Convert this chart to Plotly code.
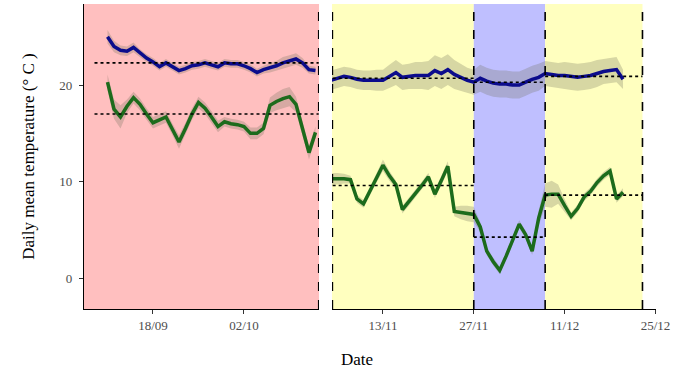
import pandas as pd
import plotly.graph_objects as go

# ---- data ----
left_dates = pd.date_range("2018-09-11", "2018-10-13", freq="D")
right_dates = pd.date_range("2018-11-05", "2018-12-20", freq="D")

blue_left = [25.0, 24.0, 23.6, 23.5, 23.9, 23.3, 22.8, 22.4, 21.9, 22.3, 21.9,
             21.5, 21.7, 22.0, 22.1, 22.3, 22.1, 21.9, 22.3, 22.2, 22.2, 22.0,
             21.7, 21.3, 21.6, 21.8, 22.0, 22.3, 22.5, 22.7, 22.3, 21.6, 21.5]
green_left = [20.3, 17.5, 16.7, 17.8, 18.7, 18.0, 17.0, 16.1, 16.4, 16.7, 15.4,
              14.1, 15.5, 17.0, 18.2, 17.6, 16.7, 15.7, 16.2, 16.0, 15.9, 15.7,
              15.0, 15.0, 15.5, 17.9, 18.3, 18.6, 18.8, 18.0, 15.5, 13.0, 15.1]
blue_left_sd = [0.7, 0.6, 0.5, 0.5, 0.5, 0.4, 0.4, 0.4, 0.4, 0.4, 0.4,
                0.4, 0.4, 0.4, 0.4, 0.4, 0.4, 0.4, 0.4, 0.4, 0.4, 0.4,
                0.4, 0.4, 0.4, 0.5, 0.5, 0.6, 0.6, 0.6, 0.5, 0.4, 0.4]
green_left_sd = [0.8, 1.0, 1.2, 0.7, 0.6, 0.6, 0.6, 0.6, 0.6, 0.6, 0.6,
                 0.7, 0.6, 0.6, 0.6, 0.6, 0.6, 0.6, 0.5, 0.5, 0.5, 0.5,
                 0.6, 0.6, 0.6, 0.8, 0.9, 1.0, 1.0, 0.8, 0.7, 0.7, 0.6]

blue_right = [20.5, 20.7, 20.9, 20.8, 20.6, 20.5, 20.5, 20.5, 20.5, 20.9, 21.3,
              20.8, 20.9, 21.0, 21.0, 21.0, 21.5, 21.2, 21.6, 21.1, 20.8, 20.5,
              20.3, 20.7, 20.4, 20.2, 20.1, 20.1, 20.0, 20.0, 20.3, 20.6, 20.8,
              21.2, 21.1, 21.0, 21.0, 20.9, 20.8, 20.9, 21.0, 21.2, 21.4, 21.5,
              21.6, 20.6]
green_right = [10.3, 10.3, 10.3, 10.2, 8.2, 7.7, 9.0, 10.4, 11.7, 10.6, 9.7,
               7.1, 7.9, 8.7, 9.6, 10.5, 8.7, 10.1, 11.6, 6.9, 6.8, 6.7,
               6.6, 5.3, 2.8, 1.7, 0.8, 2.3, 4.0, 5.6, 4.5, 2.8, 6.2,
               8.6, 8.7, 8.7, 7.5, 6.4, 7.2, 8.4, 9.0, 9.9, 10.6, 11.1,
               8.2, 8.9]
blue_right_sd = [1.0, 1.0, 1.0, 1.0, 1.0, 1.0, 1.0, 1.1, 1.1, 1.2, 1.3,
                 1.3, 1.3, 1.4, 1.4, 1.5, 1.6, 1.6, 1.6, 1.5, 1.4, 1.3,
                 1.3, 1.4, 1.4, 1.4, 1.4, 1.4, 1.4, 1.4, 1.4, 1.4, 1.4,
                 1.3, 1.3, 1.3, 1.4, 1.4, 1.4, 1.4, 1.4, 1.4, 1.3, 1.3,
                 1.3, 1.0]
green_right_sd = [0.6, 0.6, 0.5, 0.4, 0.4, 0.4, 0.4, 0.5, 0.6, 0.5, 0.4,
                  0.4, 0.4, 0.4, 0.4, 0.4, 0.4, 0.5, 0.5, 0.5, 0.7, 0.8,
                  0.8, 0.5, 0.4, 0.4, 0.4, 0.4, 0.4, 0.4, 0.4, 0.4, 0.8,
                  1.2, 1.4, 1.0, 0.7, 0.4, 0.4, 0.4, 0.4, 0.4, 0.4, 0.4,
                  0.4, 0.4]

# period means (dotted lines)
mean_start = ["2018-09-09", "2018-11-05 06:00", "2018-11-27", "2018-12-08"]
mean_end = ["2018-10-13 12:00", "2018-11-27", "2018-12-08", "2018-12-23"]
mean_axis = ["x", "x2", "x2", "x2"]
blue_mean = [22.3, 20.7, 20.3, 20.9]
green_mean = [17.0, 9.6, 4.25, 8.6]

# background periods on the right panel
period_start = ["2018-11-05", "2018-11-27", "2018-12-08"]
period_end = ["2018-11-27", "2018-12-08", "2018-12-23"]
period_color = ["rgb(255,255,191)", "rgb(191,191,255)", "rgb(255,255,191)"]
dashed_at = [("x", "2018-10-13 12:00"), ("x2", "2018-11-05 05:00"),
             ("x2", "2018-11-27"), ("x2", "2018-12-08"), ("x2", "2018-12-23")]

left_ticks = ["2018-09-18", "2018-10-02"]
right_ticks = ["2018-11-13", "2018-11-27", "2018-12-11", "2018-12-25"]

BLUE = "#0c0c8c"
GREEN = "#1c6b1c"
RIBBON = "rgba(110,110,90,0.28)"
FONT = "Liberation Serif"

fig = go.Figure()


def add_series(dates, vals, sd, color, xa):
    up = [v + s for v, s in zip(vals, sd)]
    lo = [v - s for v, s in zip(vals, sd)]
    xs = list(dates) + list(dates[::-1])
    fig.add_trace(go.Scatter(x=xs, y=up + lo[::-1], fill="toself", fillcolor=RIBBON,
                             line=dict(width=0), mode="lines", xaxis=xa, yaxis="y",
                             hoverinfo="skip", showlegend=False))
    fig.add_trace(go.Scatter(x=dates, y=vals, mode="lines", line=dict(color=color, width=3.5),
                             xaxis=xa, yaxis="y", showlegend=False))


add_series(left_dates, blue_left, blue_left_sd, BLUE, "x")
add_series(left_dates, green_left, green_left_sd, GREEN, "x")
add_series(right_dates, blue_right, blue_right_sd, BLUE, "x2")
add_series(right_dates, green_right, green_right_sd, GREEN, "x2")

for s, e, xa, b, g in zip(mean_start, mean_end, mean_axis, blue_mean, green_mean):
    for m in (b, g):
        fig.add_trace(go.Scatter(x=[s, e], y=[m, m], mode="lines", xaxis=xa, yaxis="y",
                                 line=dict(color="black", width=1.6, dash="dot"),
                                 showlegend=False))

# backgrounds
fig.add_shape(type="rect", xref="x domain", yref="y domain", x0=0, x1=1, y0=0, y1=1,
              fillcolor="rgb(255,191,191)", line_width=0, layer="below")
for s, e, c in zip(period_start, period_end, period_color):
    fig.add_shape(type="rect", xref="x2", yref="y domain", x0=s, x1=e, y0=0, y1=1,
                  fillcolor=c, line_width=0, layer="below")
for xa, d in dashed_at:
    fig.add_shape(type="line", xref=xa, yref="y domain", x0=d, x1=d, y0=0, y1=1,
                  line=dict(color="black", width=1.6, dash="dash"))

axis_common = dict(type="date", showgrid=False, zeroline=False, showline=True,
                   linecolor="black", linewidth=1.2, ticks="outside", ticklen=4,
                   tickcolor="#333", automargin=False,
                   tickfont=dict(family=FONT, size=13, color="#4d4d4d"))

fig.update_layout(
    width=676, height=375,
    margin=dict(l=84, r=20, t=4, b=66),
    paper_bgcolor="white", plot_bgcolor="white",
    font=dict(family=FONT),
    xaxis=dict(domain=[0, 235 / 572], range=["2018-09-07 09:14", "2018-10-13 13:00"],
               tickvals=left_ticks, ticktext=[pd.Timestamp(t).strftime("%d/%m") for t in left_ticks],
               anchor="y", **axis_common),
    xaxis2=dict(domain=[248 / 572, 1], range=["2018-11-05 03:36", "2018-12-25 02:00"],
                tickvals=right_ticks, ticktext=[pd.Timestamp(t).strftime("%d/%m") for t in right_ticks],
                anchor="y", **axis_common),
    yaxis=dict(range=[-3.2, 28.4], tickvals=[0, 10, 20], showgrid=False, zeroline=False,
               showline=True, linecolor="black", linewidth=1.2, ticks="outside", ticklen=4,
               tickcolor="#333", automargin=False, ticklabelstandoff=4,
               tickfont=dict(family=FONT, size=13, color="#4d4d4d"),
               title=dict(text="Daily mean temperature (° C )", standoff=20,
                          font=dict(family=FONT, size=17, color="black"))),
)

fig.add_annotation(text="Date", xref="paper", yref="paper", x=0.477, y=-0.167,
                   yanchor="middle", showarrow=False,
                   font=dict(family=FONT, size=17, color="black"))

# drop the default body margin so the figure sits at the window's corner
fig.write_html("out.html", config={"displayModeBar": False},
               post_script="document.body.style.margin='0';")
